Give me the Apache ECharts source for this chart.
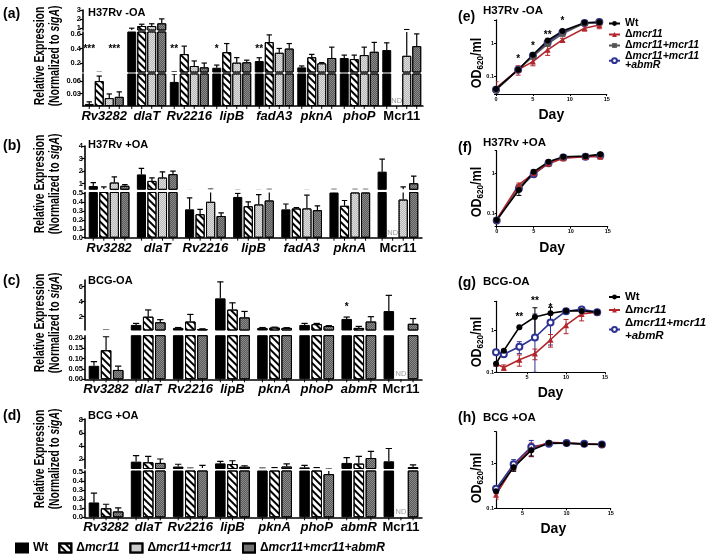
<!DOCTYPE html>
<html>
<head>
<meta charset="utf-8">
<script src="https://cdn.jsdelivr.net/npm/echarts@6/dist/echarts.min.js"></script>
<style>
html, body { margin: 0; padding: 0; background: #fff; }
#chart { width: 709px; height: 560px; }
</style>
</head>
<body>
<div id="chart"></div>
<script>
var strains = ['Wt', 'Δmcr11', 'Δmcr11+mcr11', 'Δmcr11+mcr11+abmR'];

// (a) H37Rv -OA, order of rows = strains
var genesA = ['Rv3282', 'dlaT', 'Rv2216', 'lipB', 'fadA3', 'pknA', 'phoP', 'Mcr11'];
var meanA = [
    [0.005, 0.75, 0.058, 0.135, 0.228, 0.14, 0.27, 0.38],
    [0.06, 1.2, 0.324, 0.35, 0.49, 0.28, 0.255, null],
    [0.019, 1.2, 0.159, 0.205, 0.342, 0.196, 0.31, 0.3],
    [0.022, 1.5, 0.14, 0.21, 0.4, 0.27, 0.356, 0.434]
];
var errA = [
    [0.005, 0.2, 0.019, 0.037, 0.045, 0.02, 0.04, 0.1],
    [0.012, 0.2, 0.11, 0.12, 0.1, 0.04, 0.055, 0],
    [0.01, 0.25, 0.07, 0.07, 0.06, 0.01, 0.11, 0.5],
    [0.012, 0.5, 0.06, 0.03, 0.07, 0.15, 0.13, 0.17]
];
// [gene, bar, value, text]
var starsA = [[0, 0, 0.39, '***'], [0, 2.5, 0.39, '***'], [2, 0, 0.39, '**'], [3, 0, 0.39, '*'], [4, 0, 0.39, '**']];

// (b) H37Rv +OA
var genesB = ['Rv3282', 'dlaT', 'Rv2216', 'lipB', 'fadA3', 'pknA', 'Mcr11'];
var meanB = [
    [0.8, 1.73, 0.32, 0.46, 0.32, 0.51, 1.95],
    [0.55, 1.21, 0.265, 0.355, 0.33, 0.36, null],
    [1.08, 1.48, 0.405, 0.375, 0.33, 0.51, 0.43],
    [0.82, 1.75, 0.245, 0.42, 0.31, 0.51, 1.02]
];
var errB = [
    [0.28, 0.48, 0.13, 0.04, 0.06, 0.03, 1.0],
    [0.18, 0.24, 0.055, 0.05, 0.01, 0.06, 0],
    [0.45, 0.46, 0.15, 0.11, 0.15, 0.03, 0.3],
    [0.1, 0.25, 0.035, 0.12, 0.05, 0.03, 0.58]
];

// (c) BCG-OA, rows = Wt, Δmcr11, Δmcr11+mcr11+abmR
var genesC = ['Rv3282', 'dlaT', 'Rv2216', 'lipB', 'pknA', 'phoP', 'abmR', 'Mcr11'];
var meanC = [
    [0.065, 0.9, 0.5, 4.45, 0.5, 0.9, 1.7, 2.75],
    [0.14, 2.0, 1.35, 2.95, 0.55, 1.0, 0.5, null],
    [0.045, 1.25, 0.35, 1.9, 0.5, 0.75, 1.35, 1.05]
];
var errC = [
    [0.02, 0.2, 0.05, 2.2, 0.05, 0.2, 0.25, 2.1],
    [0.065, 0.9, 0.95, 0.9, 0.05, 0.1, 0.2, 0],
    [0.018, 0.35, 0.03, 0.8, 0.03, 0.05, 0.65, 0.7]
];
var starsC = [[6, 0, 3.2, '*']];

// (d) BCG +OA
var genesD = ['Rv3282', 'dlaT', 'Rv2216', 'lipB', 'pknA', 'phoP', 'abmR', 'Mcr11'];
var meanD = [
    [0.165, 1.6, 0.85, 1.33, 0.6, 0.72, 1.4, 1.65],
    [0.1, 1.5, 0.6, 1.23, 0.62, 0.62, 1.3, null],
    [0.065, 1.4, 0.62, 0.82, 0.85, 0.48, 2.15, 0.75]
];
var errD = [
    [0.105, 0.9, 0.35, 0.3, 0.03, 0.3, 0.8, 1.95],
    [0.045, 0.9, 0.03, 0.5, 0.05, 0.05, 1.1, 0],
    [0.04, 0.6, 0.4, 0.15, 0.4, 0.06, 1.0, 0.35]
];

// growth curves, OD620/ml
var daysE = [0, 3, 5, 7, 9, 12, 14];
var odE = [
    [0.042, 0.16, 0.45, 1.2, 2.3, 4.1, 4.2],
    [0.045, 0.16, 0.28, 0.63, 1.25, 2.8, 3.5],
    [0.04, 0.16, 0.4, 0.95, 1.9, 4.0, 4.1],
    [0.04, 0.16, 0.42, 1.05, 2.1, 4.0, 4.3]
];
var sdE = [
    [0.004, 0.02, 0.05, 0.1, 0.2, 0.3, 0.3],
    [0.025, 0.05, 0.07, 0.2, 0.15, 0.5, 0.8],
    [0.004, 0.02, 0.04, 0.1, 0.2, 0.3, 0.3],
    [0.004, 0.02, 0.04, 0.1, 0.2, 0.3, 0.5]
];
var starsE = [[3, 0.33, '*'], [5, 0.78, '*'], [7, 1.75, '**'], [9, 4.4, '*']];

var daysF = [0, 3, 5, 7, 9, 12, 14];
var odF = [
    [0.068, 0.38, 1.1, 1.95, 2.6, 2.7, 3.0],
    [0.07, 0.52, 1.0, 1.75, 2.4, 2.6, 2.6],
    [0.068, 0.45, 1.05, 1.85, 2.5, 2.6, 2.8],
    [0.066, 0.42, 0.95, 1.8, 2.5, 2.6, 2.8]
];
var sdF = [
    [0.005, 0.1, 0.1, 0.15, 0.15, 0.15, 0.2],
    [0.005, 0.05, 0.1, 0.1, 0.1, 0.1, 0.2],
    [0.005, 0.05, 0.1, 0.1, 0.1, 0.1, 0.1],
    [0.005, 0.05, 0.1, 0.1, 0.1, 0.1, 0.1]
];

// (g) and (h): Wt, Δmcr11, Δmcr11+mcr11+abmR
var daysG = [1, 2, 4, 6, 8, 10, 12, 14];
var odG = [
    [0.16, 0.33, 1.2, 2.1, 2.6, 2.95, 2.95, 2.75],
    [0.16, 0.13, 0.2, 0.28, 0.6, 1.34, 2.5, 2.75],
    [0.3, 0.27, 0.41, 0.68, 1.55, 2.9, 3.2, 2.75]
];
var sdG = [
    [0.01, 0.02, 0.05, 1.4, 1.0, 0.3, 0.3, 0.2],
    [0.02, 0.02, 0.06, 0.08, 0.2, 0.5, 0.8, 0.2],
    [0.03, 0.03, 0.13, 1.8, 1.1, 0.4, 0.4, 0.2]
];
var starsG = [[4, 2.1, '**'], [6, 4.9, '**'], [8, 3.4, '*']];

var daysH = [2, 4, 6, 8, 10, 12, 14];
var odH = [
    [0.24, 0.81, 1.95, 2.8, 2.75, 2.65, 2.6],
    [0.2, 0.85, 2.1, 2.9, 2.8, 2.7, 2.6],
    [0.27, 0.95, 2.3, 2.7, 2.8, 2.7, 2.6]
];
var sdH = [
    [0.03, 0.15, 0.5, 0.2, 0.1, 0.1, 0.1],
    [0.04, 0.15, 0.7, 0.15, 0.1, 0.1, 0.1],
    [0.04, 0.25, 0.9, 0.3, 0.1, 0.1, 0.1]
];

var FONT = '"Liberation Sans", Arial, sans-serif';

var barStyles = [
    {color: '#000', borderColor: '#000', borderWidth: 1},
    {color: '#fff', borderColor: '#000', borderWidth: 1,
        decal: {symbol: 'rect', symbolSize: 1, color: '#000', dashArrayX: [1, 0], dashArrayY: [1.5, 2.5], rotation: Math.PI / 4}},
    {color: '#dedede', borderColor: '#000', borderWidth: 1,
        decal: {symbol: 'rect', symbolSize: 1, color: '#b8b8b8', dashArrayX: [[1, 1], [0, 1, 1, 0]], dashArrayY: [1, 0]}},
    {color: '#8a8a8a', borderColor: '#000', borderWidth: 1,
        decal: {symbol: 'rect', symbolSize: 1, color: '#5a5a5a', dashArrayX: [[1, 1], [0, 1, 1, 0]], dashArrayY: [1, 0]}}
];
var lineLooks = [
    {color: '#000', symbol: 'circle'},
    {color: '#b2272d', symbol: 'triangle'},
    {color: '#555', symbol: 'rect'},
    {color: '#2d3394', symbol: 'emptyCircle'}
];

var grids = [], xAxes = [], yAxes = [], series = [];

function addBarPanel(p) {
    var n = p.means.length;
    function barOffset(k, band) { return (k - (n - 1) / 2) * p.bw * (1 + p.gap) * band; }
    p.segs.forEach(function (s, si) {
        var gi = grids.length;
        var bottom = si === p.segs.length - 1;
        grids.push({left: p.left, width: p.width, top: s.top, height: s.bottom - s.top});
        xAxes.push({
            type: 'category', gridIndex: gi, data: p.genes, show: bottom,
            axisLine: {lineStyle: {color: '#000', width: 1.5}},
            axisTick: {show: false},
            axisLabel: {
                interval: 0, margin: 4, color: '#000',
                formatter: function (v) { return v === 'Mcr11' ? '{n|' + v + '}' : '{i|' + v + '}'; },
                rich: {
                    i: {fontSize: 13, fontWeight: 'bold', fontStyle: 'italic', fontFamily: FONT, color: '#000'},
                    n: {fontSize: 13, fontWeight: 'bold', fontFamily: FONT, color: '#000'}
                }
            }
        });
        yAxes.push({
            type: 'value', gridIndex: gi, min: s.min, max: s.max,
            axisLine: {show: true, lineStyle: {color: '#000', width: 1.6}},
            axisTick: {show: true, length: 3, customValues: s.ticks, lineStyle: {color: '#000', width: 1.2}},
            axisLabel: {
                customValues: s.ticks, margin: 2, fontSize: 7.5, fontWeight: 'bold', color: '#000',
                formatter: function (v) { return (+v).toFixed(s.dec); }
            },
            splitLine: {show: false}
        });
        p.means.forEach(function (m, k) {
            series.push({
                type: 'bar', name: strains[p.strainIdx[k]], xAxisIndex: gi, yAxisIndex: gi,
                // bars that end below this segment are left out of it
                data: m.map(function (v) { return v != null && v > s.min ? v : null; }),
                barWidth: p.bw * 100 + '%', barGap: p.gap * 100 + '%',
                itemStyle: barStyles[p.strainIdx[k]], clip: true, silent: true
            });
        });
        var items = [];
        p.means.forEach(function (m, k) {
            m.forEach(function (v, i) {
                if (v != null && p.errs[k][i] > 0) items.push([i, v, p.errs[k][i], k]);
            });
        });
        series.push({
            type: 'custom', xAxisIndex: gi, yAxisIndex: gi, clip: true, silent: true, data: items,
            renderItem: function (params, api) {
                var i = api.value(0), v = api.value(1), e = api.value(2), k = api.value(3);
                var band = api.size([1, 0])[0];
                var p0 = api.coord([i, v]), p1 = api.coord([i, v + e]);
                var x = p0[0] + barOffset(k, band);
                var c = p.bw * band * 0.3;
                var st = {stroke: '#000', lineWidth: 1.2};
                return {type: 'group', children: [
                    {type: 'line', shape: {x1: x, y1: p0[1], x2: x, y2: p1[1]}, style: st},
                    {type: 'line', shape: {x1: x - c, y1: p1[1], x2: x + c, y2: p1[1]}, style: st}
                ]};
            }
        });
        if (bottom) {
            // small ticks under every bar position, as in the original
            var tickItems = [];
            p.genes.forEach(function (g, i) {
                for (var k = 0; k < n; k++) tickItems.push([i, s.min, k]);
            });
            series.push({
                type: 'custom', xAxisIndex: gi, yAxisIndex: gi, silent: true, data: tickItems,
                renderItem: function (params, api) {
                    var band = api.size([1, 0])[0];
                    var pt = api.coord([api.value(0), api.value(1)]);
                    var x = pt[0] + barOffset(api.value(2), band);
                    return {type: 'line', shape: {x1: x, y1: pt[1], x2: x, y2: pt[1] + 3},
                        style: {stroke: '#000', lineWidth: 1}};
                }
            });
        }
        // annotations: stars and ND
        var notes = [];
        (p.stars || []).forEach(function (st) {
            if (st[2] >= s.min && st[2] <= s.max) notes.push({i: st[0], k: st[1], v: st[2], t: st[3], nd: false});
        });
        if (bottom) {
            p.means.forEach(function (m, k) {
                m.forEach(function (v, i) { if (v == null) notes.push({i: i, k: k, v: s.min, t: 'ND', nd: true}); });
            });
        }
        if (notes.length) {
            series.push({
                type: 'custom', xAxisIndex: gi, yAxisIndex: gi, silent: true, z: 5,
                data: notes.map(function (o) { return [o.i, o.v]; }),
                renderItem: function (params, api) {
                    var o = notes[params.dataIndex];
                    var band = api.size([1, 0])[0];
                    var pt = api.coord([o.i, o.v]);
                    var x = pt[0] + barOffset(o.k, band);
                    return {type: 'text', x: x, y: o.nd ? pt[1] - 5 : pt[1], style: {
                        text: o.t, fill: o.nd ? '#9a9a9a' : '#000', fontSize: o.nd ? 7.5 : 10,
                        fontWeight: o.nd ? 'normal' : 'bold', fontFamily: FONT,
                        align: 'center', verticalAlign: 'middle'
                    }};
                }
            });
        }
    });
}

function powLabel(v) {
    var l = Math.log(v) / Math.LN10;
    if (Math.abs(l - Math.round(l)) > 1e-6) return '';
    return Math.round(l) < 0 ? '0.1' : '1';
}

function addLinePanel(p) {
    var gi = grids.length;
    grids.push({left: p.left, top: p.top, width: p.width, height: p.height});
    xAxes.push({
        type: 'value', gridIndex: gi, min: p.xmin, max: 15,
        axisLine: {lineStyle: {color: '#000', width: 1.2}},
        axisTick: {length: 2, customValues: p.xticks, lineStyle: {color: '#000'}},
        axisLabel: {customValues: p.xticks, fontSize: 5.5, fontWeight: 'bold', color: '#000', margin: 2},
        splitLine: {show: false},
        name: 'Day', nameLocation: 'middle', nameGap: p.dayGap,
        nameTextStyle: {fontSize: 14, fontWeight: 'bold', color: '#000', fontFamily: FONT}
    });
    yAxes.push({
        type: 'log', logBase: 10, gridIndex: gi, min: p.ymin, max: p.ymax,
        axisLine: {show: true, lineStyle: {color: '#000', width: 1.2}},
        axisTick: {length: 2, lineStyle: {color: '#000'}},
        axisLabel: {fontSize: 5.5, fontWeight: 'bold', color: '#000', margin: 2, formatter: powLabel},
        splitLine: {show: false}
    });
    var errItems = [];
    for (var k = p.od.length - 1; k >= 0; k--) {
        var look = lineLooks[p.strainIdx[k]];
        series.push({
            type: 'line', name: p.prefix + strains[p.strainIdx[k]], xAxisIndex: gi, yAxisIndex: gi,
            data: p.days.map(function (d, j) { return [d, p.od[k][j]]; }),
            symbol: look.symbol, symbolSize: 6, silent: true,
            itemStyle: {color: look.color, borderColor: look.color, borderWidth: look.symbol === 'emptyCircle' ? 1.3 : 0},
            lineStyle: {color: look.color, width: 1.6}
        });
        p.days.forEach(function (d, j) {
            var v = p.od[k][j], e = p.sd[k][j];
            errItems.push([d, Math.max(v - e, p.ymin), v + e, p.strainIdx[k]]);
        });
    }
    series.push({
        type: 'custom', xAxisIndex: gi, yAxisIndex: gi, clip: true, silent: true, z: 1, data: errItems,
        renderItem: function (params, api) {
            var a = api.coord([api.value(0), api.value(1)]), b = api.coord([api.value(0), api.value(2)]);
            var st = {stroke: lineLooks[api.value(3)].color, lineWidth: 1};
            return {type: 'group', children: [
                {type: 'line', shape: {x1: a[0], y1: a[1], x2: b[0], y2: b[1]}, style: st},
                {type: 'line', shape: {x1: a[0] - 2.5, y1: a[1], x2: a[0] + 2.5, y2: a[1]}, style: st},
                {type: 'line', shape: {x1: b[0] - 2.5, y1: b[1], x2: b[0] + 2.5, y2: b[1]}, style: st}
            ]};
        }
    });
    if (p.stars) {
        series.push({
            type: 'custom', xAxisIndex: gi, yAxisIndex: gi, silent: true, z: 5,
            data: p.stars.map(function (s) { return [s[0], s[1]]; }),
            renderItem: function (params, api) {
                var pt = api.coord([api.value(0), api.value(1)]);
                return {type: 'text', x: pt[0], y: pt[1], style: {
                    text: p.stars[params.dataIndex][2], fill: '#000', fontSize: 10, fontWeight: 'bold',
                    fontFamily: FONT, align: 'center', verticalAlign: 'middle'
                }};
            }
        });
    }
}

addBarPanel({
    genes: genesA, means: meanA, errs: errA, strainIdx: [0, 1, 2, 3], left: 83, width: 340,
    bw: 0.21, gap: 0.12, stars: starsA,
    segs: [
        {top: 10, bottom: 30, min: 0.75, max: 3, ticks: [1, 2, 3], dec: 0},
        {top: 32, bottom: 72, min: 0.076, max: 0.63, ticks: [0.2, 0.4, 0.6], dec: 1},
        {top: 74, bottom: 106, min: 0, max: 0.077, ticks: [0.03, 0.06], dec: 2}
    ]
});
addBarPanel({
    genes: genesB, means: meanB, errs: errB, strainIdx: [0, 1, 2, 3], left: 85, width: 337,
    bw: 0.19, gap: 0.15,
    segs: [
        {top: 146, bottom: 189.3, min: 0.54, max: 4, ticks: [1, 2, 3, 4], dec: 0},
        {top: 192.5, bottom: 237.7, min: 0, max: 0.51, ticks: [0, 0.1, 0.2, 0.3, 0.4, 0.5], dec: 1}
    ]
});
addBarPanel({
    genes: genesC, means: meanC, errs: errC, strainIdx: [0, 1, 3], left: 85, width: 337,
    bw: 0.25, gap: 0.15, stars: starsC,
    segs: [
        {top: 280, bottom: 330, min: 0.22, max: 6.9, ticks: [2, 4, 6], dec: 0},
        {top: 335.7, bottom: 379.3, min: 0, max: 0.21, ticks: [0, 0.05, 0.1, 0.15, 0.2], dec: 2}
    ]
});
addBarPanel({
    genes: genesD, means: meanD, errs: errD, strainIdx: [0, 1, 3], left: 85, width: 337,
    bw: 0.25, gap: 0.15,
    segs: [
        {top: 419, bottom: 468.5, min: 0.55, max: 8.1, ticks: [2, 4, 6, 8], dec: 0},
        {top: 471, bottom: 517.3, min: 0, max: 0.515, ticks: [0, 0.1, 0.2, 0.3, 0.4, 0.5], dec: 1}
    ]
});

addLinePanel({prefix: 'e|', days: daysE, od: odE, sd: sdE, strainIdx: [0, 1, 2, 3], stars: starsE,
    left: 496, top: 19.8, width: 110.7, height: 74.2, xmin: 0, xticks: [0, 5, 10, 15], ymin: 0.03, ymax: 5, dayGap: 14});
addLinePanel({prefix: 'f|', days: daysF, od: odF, sd: sdF, strainIdx: [0, 1, 2, 3],
    left: 496.7, top: 150.7, width: 111, height: 76, xmin: 0, xticks: [0, 5, 10, 15], ymin: 0.046, ymax: 3.7, dayGap: 14});
addLinePanel({prefix: 'g|', days: daysG, od: odG, sd: sdG, strainIdx: [0, 1, 3], stars: starsG,
    left: 496, top: 301.3, width: 109, height: 71, xmin: 1, xticks: [5, 10, 15], ymin: 0.1, ymax: 5, dayGap: 14});
addLinePanel({prefix: 'h|', days: daysH, od: odH, sd: sdH, strainIdx: [0, 1, 3],
    left: 496, top: 431.7, width: 114.7, height: 76.6, xmin: 2, xticks: [5, 10, 15], ymin: 0.1, ymax: 5, dayGap: 14});

function legendText(name, twoLine) {
    var s = name.indexOf('|') >= 0 ? name.split('|')[1] : name;
    if (s === 'Wt') return '{n|Wt}';
    var rest = s.slice(1);
    if (twoLine && rest === 'mcr11+mcr11+abmR') return '{n|Δ}{i|mcr11+mcr11}\n{i|+abmR}';
    return '{n|Δ}{i|' + rest + '}';
}
function legendRich(size, lh) {
    return {
        n: {fontSize: size, fontWeight: 'bold', fontFamily: FONT, color: '#000', lineHeight: lh},
        i: {fontSize: size, fontWeight: 'bold', fontStyle: 'italic', fontFamily: FONT, color: '#000', lineHeight: lh}
    };
}

var legends = [
    {
        left: 15, top: 542, padding: 0, itemWidth: 12, itemHeight: 9, itemGap: 10, icon: 'rect', selectedMode: false,
        data: strains,
        formatter: function (n) { return legendText(n, false); },
        textStyle: {rich: legendRich(12, 14)}
    },
    {
        left: 608, top: 18, padding: 0, orient: 'vertical', itemWidth: 11, itemHeight: 6, itemGap: 0, selectedMode: false,
        data: ['e|Wt', 'e|Δmcr11', 'e|Δmcr11+mcr11', 'e|Δmcr11+mcr11+abmR'],
        formatter: function (n) { return legendText(n, true); },
        textStyle: {rich: legendRich(10.5, 8.4)}
    },
    {
        left: 608, top: 291, padding: 0, orient: 'vertical', itemWidth: 11, itemHeight: 6, itemGap: 1, selectedMode: false,
        data: ['g|Wt', 'g|Δmcr11', 'g|Δmcr11+mcr11+abmR'],
        formatter: function (n) { return legendText(n, true); },
        textStyle: {rich: legendRich(11.5, 13)}
    }
];

function label(t, x, y, size) {
    return {type: 'text', x: x, y: y, style: {text: t, fontSize: size, fontWeight: 'bold', fontFamily: FONT,
        fill: '#000', align: 'left', verticalAlign: 'middle'}};
}
function yTitle(x, y) {
    return {type: 'text', x: x, y: y, rotation: Math.PI / 2, scaleX: 0.74, style: {
        text: '{b|Relative Expression}\n{b|(Normalized to }{bi|sigA}{b|)}',
        align: 'center', verticalAlign: 'middle', fill: '#000',
        rich: {
            b: {fontSize: 14, fontWeight: 'bold', fontFamily: FONT, lineHeight: 15, fill: '#000'},
            bi: {fontSize: 14, fontWeight: 'bold', fontStyle: 'italic', fontFamily: FONT, lineHeight: 15, fill: '#000'}
        }
    }};
}
function odTitle(x, y) {
    return {type: 'text', x: x, y: y, rotation: Math.PI / 2, scaleX: 0.9, style: {
        text: '{b|OD}{s|620}{b|/ml}', align: 'center', verticalAlign: 'middle', fill: '#000',
        rich: {
            b: {fontSize: 14, fontWeight: 'bold', fontFamily: FONT, lineHeight: 16, fill: '#000'},
            s: {fontSize: 9, fontWeight: 'bold', fontFamily: FONT, lineHeight: 10, verticalAlign: 'bottom', fill: '#000'}
        }
    }};
}

var graphics = [
    label('(a)', 3, 14, 14), label('(b)', 3, 146, 14), label('(c)', 3, 281, 14), label('(d)', 3, 416, 14),
    label('(e)', 458, 17, 14), label('(f)', 458, 148, 14), label('(g)', 458, 283, 14), label('(h)', 458, 418, 14),
    label('H37Rv -OA', 88, 13, 11), label('H37Rv +OA', 88, 145, 11), label('BCG-OA', 88, 281, 11), label('BCG +OA', 88, 416, 11),
    label('H37Rv -OA', 483, 11, 11.5), label('H37Rv +OA', 483, 143, 11.5), label('BCG-OA', 483, 282, 11.5), label('BCG +OA', 483, 418, 11.5),
    yTitle(48, 56), yTitle(48, 184), yTitle(48, 323), yTitle(48, 459),
    odTitle(477, 63), odTitle(477, 192), odTitle(477, 342), odTitle(477, 478)
];

var option = {
    animation: false,
    backgroundColor: '#fff',
    textStyle: {fontFamily: FONT},
    grid: grids,
    xAxis: xAxes,
    yAxis: yAxes,
    legend: legends,
    graphic: graphics,
    series: series
};

var myChart = echarts.init(document.getElementById('chart'));
myChart.setOption(option);
</script>
</body>
</html>
